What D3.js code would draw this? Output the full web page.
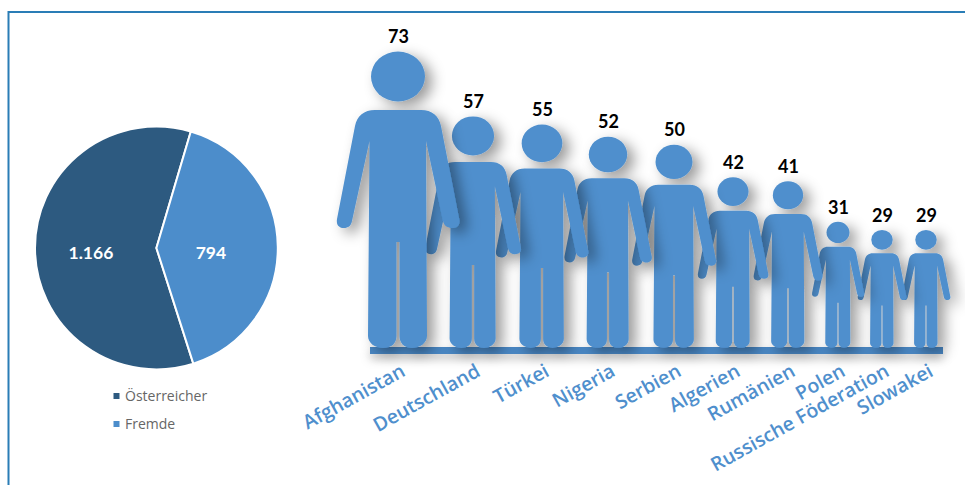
<!DOCTYPE html>
<html><head><meta charset="utf-8">
<script src="https://cdn.jsdelivr.net/npm/d3@7/dist/d3.min.js"></script>
<style>html,body{margin:0;padding:0;background:#fff}svg{display:block}text{font-family:Lato,"Open Sans",sans-serif}</style>
</head><body><svg id="c" width="965" height="485"></svg>
<script>
const countries=["Afghanistan","Deutschland","Türkei","Nigeria","Serbien","Algerien","Rumänien","Polen","Russische Föderation","Slowakei"];
const counts=[73,57,55,52,50,42,41,31,29,29];
const pieLabels=["Österreicher","Fremde"];
const pieValues=[1166,794];
const pieText=["1.166","794"];
const pieColors=["#2d5a80","#4c8dcb"];
const blue="#4f8fcd";

const svg=d3.select("#c");
const defs=svg.append("defs");
const f=defs.append("filter").attr("id","sh").attr("filterUnits","userSpaceOnUse").attr("x",-150).attr("y",-340).attr("width",320).attr("height",400);
f.append("feDropShadow").attr("dx",7).attr("dy",5).attr("stdDeviation",7).attr("flood-color","#000").attr("flood-opacity",.4);
const fb=defs.append("filter").attr("id","shb").attr("x","-5%").attr("y","-200%").attr("width","110%").attr("height","700%");
fb.append("feDropShadow").attr("dx",0).attr("dy",5).attr("stdDeviation",5).attr("flood-color","#000").attr("flood-opacity",.25);

// frame
svg.append("path").attr("d",d3.line()([[8.5,485],[8.5,12],[965,12]])).attr("fill","none").attr("stroke","#2a7db6").attr("stroke-width",2);

// pie
const cx=156.4,cy=248,R=121.4;
const a0=162.3*Math.PI/180;
const pie=d3.pie().sort(null).startAngle(a0).endAngle(a0+2*Math.PI);
const arcs=pie(pieValues);
const arc=d3.arc().innerRadius(0).outerRadius(R);
const gp=svg.append("g").attr("transform",`translate(${cx},${cy})`);
gp.selectAll("path").data(arcs).join("path").attr("d",arc).attr("fill",(d,i)=>pieColors[i]).attr("stroke","#fff").attr("stroke-width",2).attr("stroke-linejoin","round");
gp.selectAll("text").data(arcs).join("text")
  .attr("transform",(d,i)=>`translate(${i==0?-65.5:54.5},11)`)
  .attr("text-anchor","middle").attr("fill","#fff").attr("font-weight",700).attr("font-size",17.5).text((d,i)=>pieText[i]);

// legend
const yLeg=d3.scalePoint().domain(pieLabels).range([396,424]);
const lg=svg.append("g").selectAll("g").data(pieLabels).join("g").attr("transform",d=>`translate(113.5,${yLeg(d)})`);
lg.append("rect").attr("y",-3).attr("width",6).attr("height",6).attr("fill",(d,i)=>pieColors[i]);
lg.append("text").attr("x",11.5).attr("y",5).attr("font-size",14).attr("fill","#666").style("font-family","'Open Sans'").text(d=>d);

// baseline
svg.append("rect").attr("x",370).attr("y",347).attr("width",573).attr("height",7).attr("fill","#4a86c2").attr("filter","url(#shb)");

// people
const yBase=347.5, yTop=51;
const h=d3.scaleLinear().domain([0,73]).range([0,yBase-yTop]);
const spacing=[75,69,66,66,59,55,50,44,44];
const cum=d3.cumsum([0,...spacing]);
const x=d3.scaleLinear().domain([0,cum[cum.length-1]]).range([398,926]);

// one figure in a unit box: feet at y=0, head top at y=-1
const U=296.5;
function person(){
  const p=d3.path();
  const X=a=>a/U, Y=b=>(b-U)/U;
  const M=(a,b)=>p.moveTo(X(a),Y(b)), L=(a,b)=>p.lineTo(X(a),Y(b));
  const C=(a1,b1,a2,b2,a,b)=>p.bezierCurveTo(X(a1),Y(b1),X(a2),Y(b2),X(a),Y(b));
  M(-23,59);
  L(23,59);
  C(34,59,41,65,43,75);
  L(61,167);
  C(63,174,59,177,54,177);
  C(50,177,46,175,45,170);
  L(28,90);
  L(29,285);
  C(29,292,22,297,14,297);
  C(6,297,1.5,292,1.5,285);
  L(1.5,191);
  L(-1.5,191);
  L(-1.5,285);
  C(-1.5,292,-6,297,-15,297);
  C(-23,297,-30,292,-30,285);
  L(-28.5,90);
  L(-46,170);
  C(-47,175,-50,177,-54,177);
  C(-59,177,-62,174,-61,168);
  L(-43,75);
  C(-41,65,-34,59,-23,59);
  p.closePath();
  return p.toString();
}
const bodyPath=person();
const order=d3.range(counts.length).reverse();
const fig=svg.append("g").selectAll("g").data(order).join("g")
  .attr("filter","url(#sh)")
  .attr("transform",i=>`translate(${x(cum[i])},${yBase})`)
  .append("g").attr("transform",i=>`scale(${h(counts[i])})`);
fig.append("path").attr("d",bodyPath).attr("fill",blue);
fig.append("ellipse").attr("cy",-271/U).attr("rx",27/U).attr("ry",25/U).attr("fill",blue);

// values
svg.append("g").selectAll("text").data(counts).join("text")
  .attr("x",(d,i)=>x(cum[i])+0.5).attr("y",d=>yBase-h(d)-8)
  .attr("text-anchor","middle").attr("font-size",18).attr("font-weight",700).attr("fill","#000").text(d=>d);

// category labels
svg.append("g").selectAll("text").data(countries).join("text")
  .attr("transform",(d,i)=>`translate(${x(cum[i])+8.5},375) rotate(-29)`)
  .attr("text-anchor","end").attr("font-size",19.5).attr("font-weight",600).attr("fill",blue).style("font-family","'Open Sans'").text(d=>d);
</script></body></html>
